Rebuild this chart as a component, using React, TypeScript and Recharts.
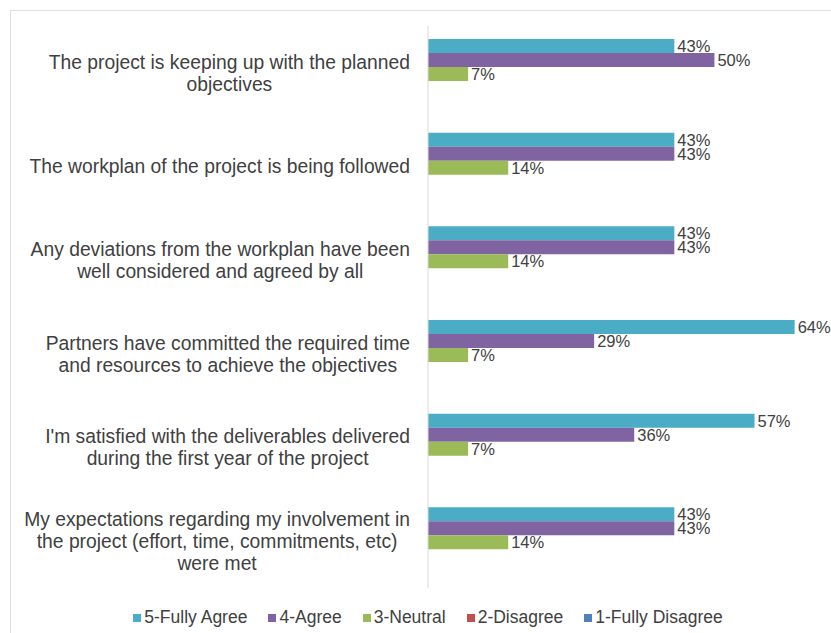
import { BarChart, Bar, XAxis, YAxis, LabelList } from 'recharts';

const categories = [
  'The project is keeping up with the planned\nobjectives',
  'The workplan of the project is being followed',
  'Any deviations from the workplan have been\nwell considered and agreed by all',
  'Partners have committed the required time\nand resources to achieve the objectives',
  "I'm satisfied with the deliverables delivered\nduring the first year of the project",
  'My expectations regarding my involvement in\nthe project (effort, time, commitments, etc)\nwere met',
];

const fullyAgree = [43, 43, 43, 64, 57, 43];
const agree = [50, 43, 43, 29, 36, 43];
const neutral = [7, 14, 14, 7, 7, 14];
const disagree = [0, 0, 0, 0, 0, 0];
const fullyDisagree = [0, 0, 0, 0, 0, 0];

const series = [
  { key: 'fullyAgree', name: '5-Fully Agree', color: '#4BACC6', labels: true },
  { key: 'agree', name: '4-Agree', color: '#8064A2', labels: true },
  { key: 'neutral', name: '3-Neutral', color: '#9BBB59', labels: true },
  { key: 'disagree', name: '2-Disagree', color: '#C0504D', labels: false },
  { key: 'fullyDisagree', name: '1-Fully Disagree', color: '#4F81BD', labels: false },
];

const chartData = categories.map((category, i) => ({
  category,
  fullyAgree: fullyAgree[i],
  agree: agree[i],
  neutral: neutral[i],
  disagree: disagree[i],
  fullyDisagree: fullyDisagree[i],
}));

const FONT = '"Liberation Sans", Arial, sans-serif';
const TICK_SIZE = 19.3;

// widest line of a wrapped label, so the block can sit flush right with its lines centred
let ctx: CanvasRenderingContext2D | null = null;
function textWidth(s: string) {
  if (!ctx) ctx = document.createElement('canvas').getContext('2d');
  if (!ctx) return s.length * TICK_SIZE * 0.5;
  ctx.font = `${TICK_SIZE}px ${FONT}`;
  return ctx.measureText(s).width;
}

function CategoryTick({ y, payload }: any) {
  const lines = String(payload.value).split('\n');
  const lineHeight = 22;
  const startY = y - ((lines.length - 1) * lineHeight) / 2;
  const maxW = Math.max(...lines.map(textWidth));
  const cx = 410 - maxW / 2;
  return (
    <text x={cx} y={startY} textAnchor="middle" fill="#404040" fontSize={TICK_SIZE} fontFamily={FONT}>
      {lines.map((line, i) => (
        <tspan key={i} x={cx} y={startY + i * lineHeight} dy="0.35em">
          {line}
        </tspan>
      ))}
    </text>
  );
}

function LegendContent() {
  return (
    <div
      style={{
        display: 'flex',
        justifyContent: 'center',
        gap: 21,
        fontFamily: FONT,
        fontSize: 17.5,
        color: '#404040',
      }}
    >
      {series.map((s) => (
        <span key={s.key} style={{ display: 'flex', alignItems: 'center' }}>
          <span style={{ width: 8, height: 8, background: s.color, marginRight: 3, display: 'inline-block' }} />
          {s.name}
        </span>
      ))}
    </div>
  );
}

export default function App() {
  return (
    <div style={{ position: 'relative', width: 831, height: 633, background: '#fff' }}>
      <style>{'body{margin:0}'}</style>
      <div
        style={{
          position: 'absolute',
          left: 10,
          top: 10,
          right: 0,
          bottom: 0,
          borderTop: '1px solid #dedede',
          borderLeft: '1px solid #dedede',
        }}
      />
      <div style={{ position: 'absolute', left: 0, top: 0 }}>
        <BarChart
          width={831}
          height={633}
          data={chartData}
          layout="vertical"
          margin={{ top: 26, right: 2, bottom: 45, left: 0 }}
          barCategoryGap={13}
          barGap={0}
        >
          <XAxis type="number" domain={[0, 70]} hide />
          <YAxis
            type="category"
            dataKey="category"
            width={428}
            tick={<CategoryTick />}
            tickLine={false}
            axisLine={{ stroke: '#d9d9d9' }}
            interval={0}
          />
          {series.map((s) => (
            <Bar key={s.key} dataKey={s.key} name={s.name} fill={s.color} isAnimationActive={false}>
              {s.labels && (
                <LabelList
                  dataKey={s.key}
                  position="right"
                  offset={3}
                  formatter={(v: any) => `${v}%`}
                  fill="#404040"
                  fontSize={16.5}
                  fontFamily={FONT}
                />
              )}
            </Bar>
          ))}
        </BarChart>
        <div style={{ position: 'absolute', left: 0, width: 856, top: 607 }}>
          <LegendContent />
        </div>
      </div>
    </div>
  );
}
